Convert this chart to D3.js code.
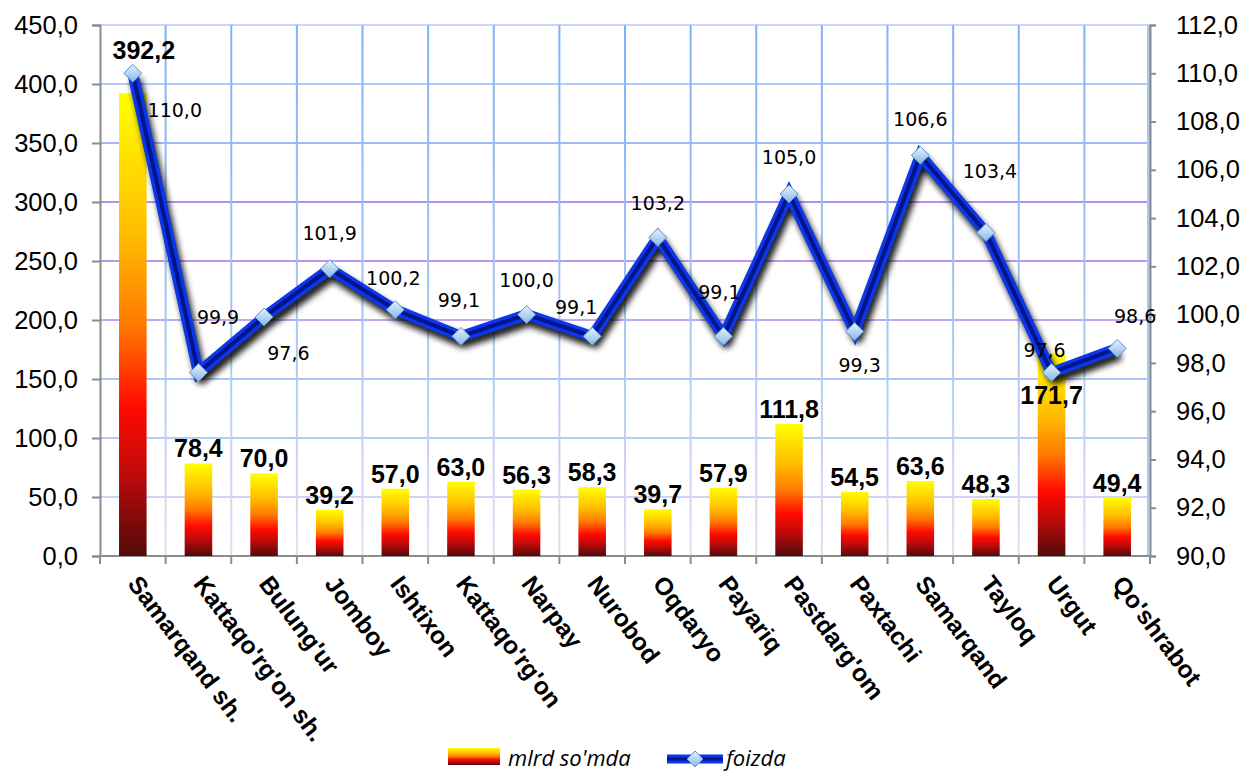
<!DOCTYPE html>
<html>
<head>
<meta charset="utf-8">
<script src="https://cdn.jsdelivr.net/npm/d3@7"></script>
<style>
  body { margin: 0; background: #fff; }
  svg { display: block; }
</style>
</head>
<body>
<svg id="chart" width="1244" height="771"></svg>
<script>
// data
var districts = ["Samarqand sh.", "Kattaqo'rg'on  sh.", "Bulung'ur", "Jomboy", "Ishtixon",
  "Kattaqo'rg'on", "Narpay", "Nurobod", "Oqdaryo", "Payariq", "Pastdarg'om",
  "Paxtachi", "Samarqand", "Tayloq", "Urgut", "Qo'shrabot"];
var mlrdSomda = [392.2, 78.4, 70.0, 39.2, 57.0, 63.0, 56.3, 58.3, 39.7, 57.9, 111.8,
  54.5, 63.6, 48.3, 171.7, 49.4];
var foizda = [110.0, 97.6, 99.9, 101.9, 100.2, 99.1, 100.0, 99.1, 103.2, 99.1, 105.0,
  99.3, 106.6, 103.4, 97.6, 98.6];
var leftTicks = [0, 50, 100, 150, 200, 250, 300, 350, 400, 450];
var rightTicks = [90, 92, 94, 96, 98, 100, 102, 104, 106, 108, 110, 112];
var legendNames = ["mlrd so'mda", "foizda"];

var svg = d3.select('#chart'),
    plotLeft = 100, plotRight = 1150, plotTop = 25, plotBottom = 556,
    comma = d => d3.format('.1f')(d).replace('.', ',');

var x = d3.scaleBand().domain(districts).range([plotLeft, plotRight]),
    yL = d3.scaleLinear().domain([0, 450]).range([plotBottom, plotTop]),
    yR = d3.scaleLinear().domain([90, 112]).range([plotBottom, plotTop]);

var defs = svg.append('defs');
var barGrad = defs.append('linearGradient').attr('id', 'barGrad')
  .attr('x1', 0).attr('y1', 0).attr('x2', 0).attr('y2', 1);
[[0, '#ffff00'], [0.3, '#ffbe00'], [0.5, '#ff7a00'], [0.68, '#ff0a00'], [0.82, '#c00a0a'], [1, '#520a0a']]
  .forEach(s => barGrad.append('stop').attr('offset', s[0]).attr('stop-color', s[1]));
var vGrad = defs.append('linearGradient').attr('id', 'vGrid')
  .attr('gradientUnits', 'userSpaceOnUse')
  .attr('x1', 0).attr('y1', plotTop).attr('x2', 0).attr('y2', plotBottom);
vGrad.append('stop').attr('offset', 0).attr('stop-color', '#7fb2f6');
vGrad.append('stop').attr('offset', 0.6).attr('stop-color', '#a9c8f4');
vGrad.append('stop').attr('offset', 1).attr('stop-color', '#e6dcf2');
var dGrad = defs.append('linearGradient').attr('id', 'diamond')
  .attr('x1', 0).attr('y1', 0).attr('x2', 0).attr('y2', 1);
dGrad.append('stop').attr('offset', 0).attr('stop-color', '#e6f3ff');
dGrad.append('stop').attr('offset', 1).attr('stop-color', '#86b6e8');
defs.append('filter').attr('id', 'blur')
  .attr('x', '-20%').attr('y', '-20%').attr('width', '140%').attr('height', '140%')
  .append('feGaussianBlur').attr('stdDeviation', 3);

// horizontal grid (left axis steps), colours vary like the original
var hColors = {50: '#cfd4f6', 100: '#b4ccf6', 150: '#a9c6f6', 200: '#c4a6f0',
  250: '#bf94ee', 300: '#b98cef', 350: '#a4b6f4', 400: '#b0ccf8', 450: '#c9d6fa'};
svg.append('g').selectAll('line').data(leftTicks.filter(d => d > 0)).join('line')
  .attr('x1', plotLeft).attr('x2', plotRight)
  .attr('y1', d => yL(d)).attr('y2', d => yL(d))
  .attr('stroke', d => hColors[d]).attr('stroke-width', 2);

// vertical grid at category boundaries
var bounds = districts.slice(1).map(d => x(d)).concat([plotRight]);
svg.append('g').selectAll('line').data(bounds).join('line')
  .attr('x1', d => d).attr('x2', d => d)
  .attr('y1', plotTop).attr('y2', plotBottom)
  .attr('stroke', 'url(#vGrid)').attr('stroke-width', 2);

// axes
var axisColor = '#8c8c8c';
var gL = svg.append('g').attr('transform', `translate(${plotLeft},0)`)
  .call(d3.axisLeft(yL).tickValues(leftTicks).tickFormat(comma).tickSize(8).tickPadding(14));
var gR = svg.append('g').attr('transform', `translate(${plotRight},0)`)
  .call(d3.axisRight(yR).tickValues(rightTicks).tickFormat(comma).tickSize(6).tickPadding(20));
[gL, gR].forEach(g => {
  g.select('.domain').attr('stroke', axisColor).attr('stroke-width', 2);
  g.selectAll('.tick line').attr('stroke', axisColor).attr('stroke-width', 2);
  g.selectAll('.tick text').attr('font-family', 'Liberation Sans, Arial, sans-serif')
    .attr('font-size', 25.5).attr('fill', '#000');
});
svg.append('line').attr('x1', plotRight - 2).attr('x2', plotRight - 2)
  .attr('y1', plotTop).attr('y2', plotBottom).attr('stroke', '#a9c8f6').attr('stroke-width', 2);

svg.append('line').attr('x1', plotLeft).attr('x2', plotRight)
  .attr('y1', plotBottom).attr('y2', plotBottom)
  .attr('stroke', axisColor).attr('stroke-width', 2);
svg.append('g').selectAll('line').data([plotLeft].concat(bounds)).join('line')
  .attr('x1', d => d).attr('x2', d => d)
  .attr('y1', plotBottom).attr('y2', plotBottom + 8)
  .attr('stroke', axisColor).attr('stroke-width', 2);

// category labels, rotated
svg.append('g').selectAll('text').data(districts).join('text')
  .attr('transform', d => `translate(${x(d) + x.bandwidth() / 2 - 6},${plotBottom + 28}) rotate(53)`)
  .attr('font-family', 'Liberation Sans, Arial, sans-serif')
  .attr('font-weight', 'bold').attr('font-size', 24.5)
  .text(d => d);

// bars
var barW = x.bandwidth() * 0.42;
svg.append('g').selectAll('rect').data(mlrdSomda).join('rect')
  .attr('x', (d, i) => x(districts[i]) + (x.bandwidth() - barW) / 2)
  .attr('y', d => yL(d))
  .attr('width', barW)
  .attr('height', d => plotBottom - yL(d))
  .attr('fill', 'url(#barGrad)');

// line with shadow
var line = d3.line().x((d, i) => x(districts[i]) + x.bandwidth() / 2).y(d => yR(d));
svg.append('path').datum(foizda).attr('d', line)
  .attr('transform', 'translate(3,6)')
  .attr('fill', 'none').attr('stroke', '#000').attr('stroke-width', 11)
  .attr('stroke-linejoin', 'round').attr('opacity', 0.9).attr('filter', 'url(#blur)');
svg.append('path').datum(foizda).attr('d', line)
  .attr('fill', 'none').attr('stroke', '#0b38e6').attr('stroke-width', 11);
svg.append('path').datum(foizda).attr('d', line)
  .attr('fill', 'none').attr('stroke', '#00128c').attr('stroke-width', 4);

var diamondPath = 'M0,-9L9,0L0,9L-9,0Z';
svg.append('g').selectAll('path').data(foizda).join('path')
  .attr('transform', (d, i) => `translate(${x(districts[i]) + x.bandwidth() / 2},${yR(d)})`)
  .attr('d', diamondPath)
  .attr('fill', 'url(#diamond)').attr('stroke', '#5f90cc').attr('stroke-width', 1);

// bar value labels
var barLabelShift = {0: [11, -43], 14: [0, 42]};
svg.append('g').selectAll('text').data(mlrdSomda).join('text')
  .attr('x', (d, i) => x(districts[i]) + x.bandwidth() / 2 + (barLabelShift[i] ? barLabelShift[i][0] : 0))
  .attr('y', (d, i) => yL(d) + (barLabelShift[i] ? barLabelShift[i][1] : -15))
  .attr('text-anchor', 'middle').attr('dominant-baseline', 'central')
  .attr('font-family', 'Liberation Sans, Arial, sans-serif')
  .attr('font-weight', 'bold').attr('font-size', 25)
  .text(comma);

// line value labels (placed as in the original chart)
var pctLabelShift = [[42, 37], [90, -20], [-46, 0], [0, -36], [-2, -32], [-2, -36], [0, -35],
  [-16, -29], [0, -34], [-4, -44], [0, -37], [5, 33], [0, -36], [4, -62], [-7, -23], [18, -32]];
svg.append('g').selectAll('text').data(foizda).join('text')
  .attr('x', (d, i) => x(districts[i]) + x.bandwidth() / 2 + pctLabelShift[i][0])
  .attr('y', (d, i) => yR(d) + pctLabelShift[i][1])
  .attr('text-anchor', 'middle').attr('dominant-baseline', 'central')
  .attr('font-family', 'DejaVu Sans, sans-serif').attr('font-size', 19)
  .text(comma);

// legend
var lg = svg.append('g');
lg.append('rect').attr('x', 448).attr('y', 748).attr('width', 52).attr('height', 17)
  .attr('fill', 'url(#barGrad)');
lg.append('text').attr('x', 508).attr('y', 757).text(legendNames[0]);
lg.append('line').attr('x1', 667).attr('x2', 723).attr('y1', 759).attr('y2', 759)
  .attr('stroke', '#0b38e6').attr('stroke-width', 9);
lg.append('line').attr('x1', 667).attr('x2', 723).attr('y1', 759).attr('y2', 759)
  .attr('stroke', '#00128c').attr('stroke-width', 3);
lg.append('path').attr('transform', 'translate(695,759)').attr('d', 'M0,-8L8,0L0,8L-8,0Z')
  .attr('fill', 'url(#diamond)').attr('stroke', '#5f90cc');
lg.append('text').attr('x', 726).attr('y', 757).text(legendNames[1]);
lg.selectAll('text').attr('font-family', 'Open Sans, sans-serif')
  .attr('font-style', 'italic').attr('font-size', 22)
  .attr('dominant-baseline', 'central');
</script>
</body>
</html>
